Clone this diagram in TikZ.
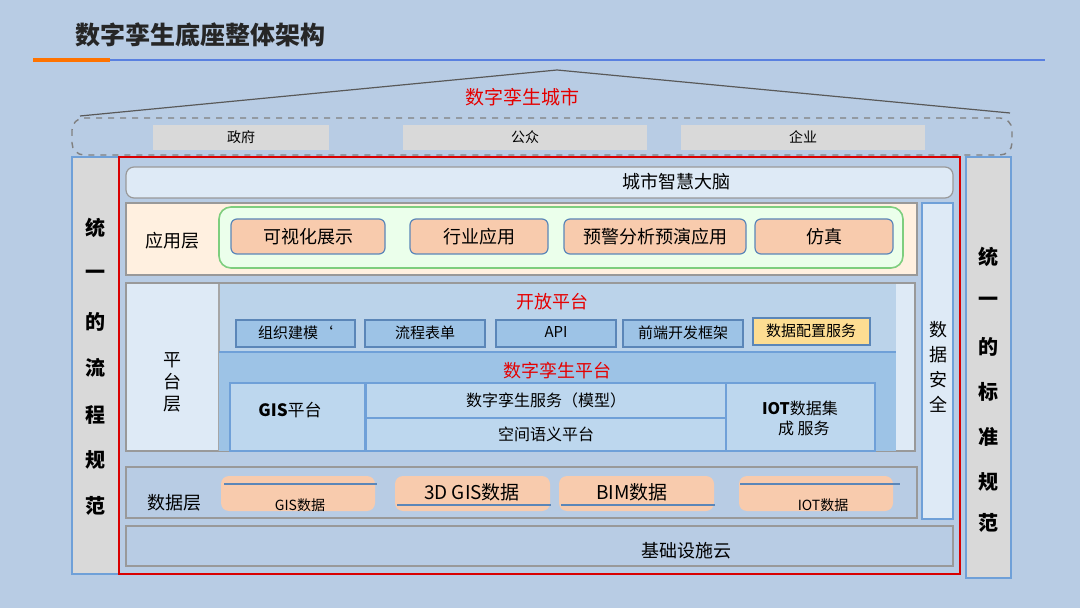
\documentclass[tikz,border=0pt]{standalone}
\usepackage{fontspec}
\setmainfont{Noto Sans CJK SC}
\begin{document}
\begin{tikzpicture}[x=0.5pt,y=-0.5pt,
 bx/.style={draw=gray!80,line width=0.6pt},
 app/.style={draw=opb,fill=appc,rounded corners=3pt,line width=0.6pt},
 op/.style={draw=opb,fill=c9d,line width=0.6pt},
 lt/.style={draw=c5b,fill=cbd,line width=0.6pt},
 side/.style={fill=gray!30,draw=c5b,line width=0.6pt},
 t/.style={font=\fontsize{9}{10}\selectfont},
 s/.style={font=\fontsize{7.5}{9}\selectfont},
 r/.style={font=\fontsize{9}{10}\selectfont,text=red!90!black}]
\definecolor{bg}{HTML}{B8CCE4}\definecolor{appc}{HTML}{F8CBAD}
\definecolor{c9d}{HTML}{9DC3E6}\definecolor{cbd}{HTML}{BDD7EE}
\definecolor{c5b}{HTML}{6FA0D8}\definecolor{lb}{HTML}{DEEAF6}
\definecolor{opb}{HTML}{5B86B8}
\fill[bg] (0,0) rectangle (1080,608);
\node[anchor=west,font=\bfseries\fontsize{12.5}{14}\selectfont,text=gray!30!black] (title) at (68,35) {数字孪生底座整体架构};
\draw[line width=2pt,orange!90!red] (33,60) -- (110,60);
\draw[line width=0.6pt,c5b!80!blue] (110,60) -- (1045,60);
% roof
\coordinate (rl) at (80,116);\coordinate (ra) at (557,70);\coordinate (rr) at (1010,113);
\draw[gray!70!black,line width=0.6pt] (rl) -- (ra) -- (rr);
\node[r,font=\fontsize{9.5}{10}\selectfont] (city) at (522,97) {数字孪生城市};
\draw[gray,dashed,rounded corners=6pt,line width=0.7pt] (72,118) rectangle (1012,155);
\foreach \a/\b/\txt/\n in {153/329/政府/g1,403/647/公众/g2,681/925/企业/g3}
 {\fill[gray!30] (\a,125) rectangle (\b,150); \node[s,font=\fontsize{7}{8}\selectfont] (\n) at ({(\a+\b)/2},137) {\txt};}
% side columns
\draw[side] (72,157) rectangle (119,574);
\draw[side] (966,157) rectangle (1011,578);
\foreach \c/\y [count=\i] in {统/228,一/275,的/322,流/368,程/415,规/460,范/506}
 \node[font=\bfseries\fontsize{10}{11}\selectfont] (lc\i) at (95,\y) {\c};
\foreach \c/\y [count=\i] in {统/257,一/302,的/347,标/392,准/437,规/482,范/523}
 \node[font=\bfseries\fontsize{10}{11}\selectfont] (rc\i) at (988,\y) {\c};
\draw[red!85!black,line width=0.7pt] (119,157) rectangle (960,574);
% brain
\draw[bx,fill=lb,rounded corners=4pt] (126,167) rectangle (953,198);
\node[t] (brain) at (676,182) {城市智慧大脑};
% application
\draw[bx,fill=orange!12] (126,203) rectangle (917,275);
\node[t] (applab) at (172,241) {应用层};
\draw[draw=green!45!gray!70,fill=green!8,rounded corners=6pt,line width=0.8pt] (219,207) rectangle (903,268);
\foreach \a/\b/\txt/\n in {231/385/可视化展示/a1,410/548/行业应用/a2,564/746/预警分析预演应用/a3,755/893/仿真/a4}
 {\draw[app] (\a,219) rectangle (\b,254); \node[t] (\n) at ({(\a+\b)/2},237) {\txt};}
% data security
\draw[draw=c5b,fill=lb,line width=0.6pt] (922,203) rectangle (953,519);
\foreach \c/\y [count=\i] in {数/330,据/355,安/380,全/404}
 \node[t] (ds\i) at (938,\y) {\c};
% platform layer
\draw[bx,fill=lb] (126,283) rectangle (915,451);
\node[t,align=center,font=\fontsize{9}{11}\selectfont] (plab) at (172,382) {平\\台\\层};
\fill[cbd!60!bg] (219,284) rectangle (896,352);
\draw[gray!70,line width=0.6pt] (219,284) -- (219,451);
\node[r] (open) at (552,302) {开放平台};
\foreach \a/\b/\txt/\n in {236/355/组织建模`/o1,365/485/流程表单/o2,496/616/API/o3,623/743/前端开发框架/o4}
 {\draw[op] (\a,320) rectangle (\b,347); \node[s,anchor=north] (\n) at ({(\a+\b)/2},319) {\txt};}
\draw[op,fill=yellow!40!orange!40] (753,318) rectangle (870,345);
\node[s,anchor=north] (o5) at (811,317) {数据配置服务};
\fill[c9d] (219,352) rectangle (896,451);
\draw[c5b,line width=0.8pt] (219,352) -- (896,352);
\node[r] (dtp) at (557,371) {数字孪生平台};
\draw[lt] (230,383) rectangle (365,451);
\node[t,font=\fontsize{8.5}{10}\selectfont] (gisp) at (290,410) {\textbf{GIS}平台};
\draw[lt] (366,383) rectangle (726,418);
\node[s,font=\fontsize{8}{9}\selectfont] (svc) at (546,400) {数字孪生服务（模型）};
\draw[lt] (366,418) rectangle (726,451);
\node[s,font=\fontsize{8}{9}\selectfont] (sem) at (546,434) {空间语义平台};
\draw[lt] (726,383) rectangle (875,451);
\node[s,align=left,font=\fontsize{8}{10}\selectfont] (iot) at (800,418) {\textbf{IOT}数据集\\\hspace*{1em}成 服务};
% data layer
\draw[bx,fill=bg] (126,467) rectangle (917,518);
\node[t] (dlab) at (174,503) {数据层};
\fill[appc,rounded corners=4pt] (221,476) rectangle (375,511);
\draw[opb,line width=0.6pt] (224,484) -- (377,484);
\node[s,font=\fontsize{7}{8}\selectfont] (d1) at (300,505) {GIS数据};
\fill[appc,rounded corners=4pt] (395,476) rectangle (550,511);
\draw[opb,line width=0.6pt] (397,505) -- (551,505);
\node[t,font=\fontsize{9.5}{10}\selectfont] (d2) at (472,492) {3D GIS数据};
\fill[appc,rounded corners=4pt] (559,476) rectangle (714,511);
\draw[opb,line width=0.6pt] (561,505) -- (715,505);
\node[t,font=\fontsize{9.5}{10}\selectfont] (d3) at (632,492) {BIM数据};
\fill[appc,rounded corners=4pt] (739,476) rectangle (893,511);
\draw[opb,line width=0.6pt] (740,484) -- (900,484);
\node[s,font=\fontsize{7}{8}\selectfont] (d4) at (823,505) {IOT数据};
% infra
\draw[bx,fill=bg] (126,526) rectangle (953,566);
\node[t] (infra) at (686,551) {基础设施云};
\end{tikzpicture}
\end{document}
